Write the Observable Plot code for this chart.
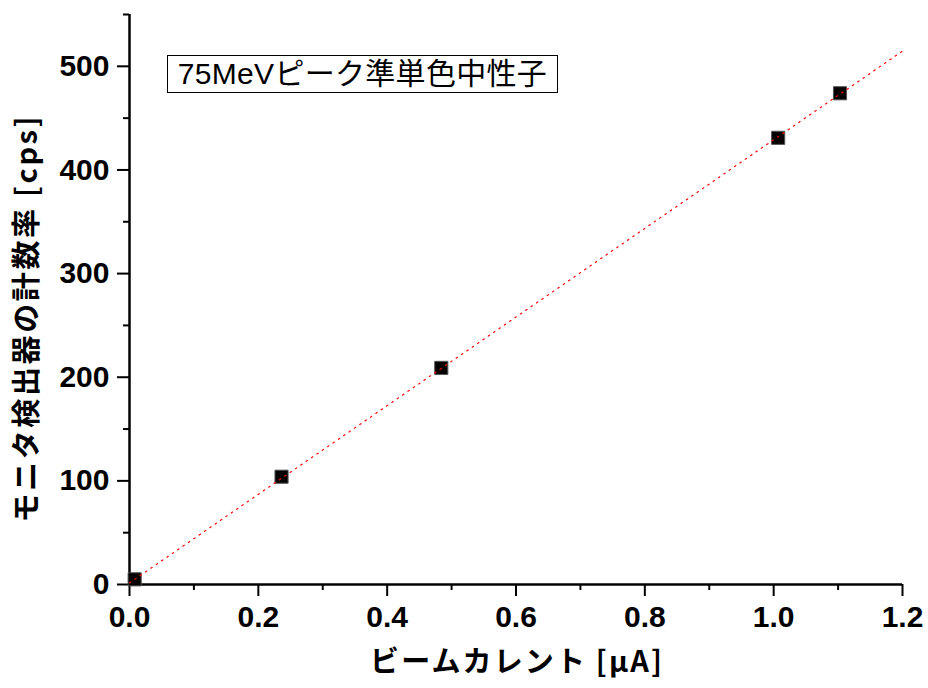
<!DOCTYPE html>
<html>
<head>
<meta charset="utf-8">
<script src="https://cdn.jsdelivr.net/npm/d3@7"></script>
<script src="https://cdn.jsdelivr.net/npm/@observablehq/plot@0.6"></script>
<style>
  html, body { margin: 0; padding: 0; background: #fff; }
  #wrap { position: relative; width: 928px; height: 688px; }
  #legend {
    position: absolute; left: 167px; top: 55px; width: 389px; height: 36px;
    border: 1px solid #000; background: #fff;
    font-family: "Liberation Sans", "Noto Sans CJK JP", sans-serif;
    font-size: 30px; line-height: 36px; text-align: center; color: #000;
    white-space: nowrap; letter-spacing: 0.3px;
  }
</style>
</head>
<body>
<div id="wrap"></div>
<script>
// Data
const currentUA = [0.008, 0.236, 0.484, 1.007, 1.103];
const countRate = [5, 104, 209, 431, 474];
const fitX = [0, 1.2];
const fitY = [1.5, 514.7];
const xTicks = [0, 0.2, 0.4, 0.6, 0.8, 1.0, 1.2];
const xMinorTicks = [0.1, 0.3, 0.5, 0.7, 0.9, 1.1];
const yTicks = [0, 100, 200, 300, 400, 500];
const yMinorTicks = [50, 150, 250, 350, 450, 550];
const xTitle = "ビームカレント [μA]";
const yTitle = "モニタ検出器の計数率 [cps]";
const legendText = "75MeVピーク準単色中性子";

const points = currentUA.map((x, i) => ({x, y: countRate[i]}));
const fit = fitX.map((x, i) => ({x, y: fitY[i]}));

const tickFont = "'Liberation Sans', Arial, sans-serif";
const titleFont = "'Noto Sans CJK JP', 'Liberation Sans', sans-serif";

const chart = Plot.plot({
  width: 928,
  height: 688,
  marginLeft: 129,
  marginRight: 26,
  marginTop: 14,
  marginBottom: 104,
  style: {fontFamily: tickFont, color: "black", background: "white", overflow: "visible"},
  x: {domain: [0, 1.2]},
  y: {domain: [0, 550]},
  marks: [
    Plot.axisX({ticks: xTicks, tickSize: 12, tickPadding: 9, strokeWidth: 2, fontSize: 30, fontWeight: "bold",
                tickFormat: d => d.toFixed(1), label: null}),
    Plot.axisX({ticks: xMinorTicks, tickSize: 6, strokeWidth: 2, text: null, label: null}),
    Plot.axisY({ticks: yTicks, tickSize: 12, tickPadding: 8, strokeWidth: 2, fontSize: 30, fontWeight: "bold",
                tickFormat: d => String(d), label: null}),
    Plot.axisY({ticks: yMinorTicks, tickSize: 6, strokeWidth: 2, text: null, label: null}),
    Plot.ruleX([0], {strokeWidth: 2.5}),
    Plot.ruleY([0], {strokeWidth: 2.5}),
    Plot.dot(points, {x: "x", y: "y", symbol: "square", r: 7.4, fill: "black", stroke: "#555", strokeWidth: 1}),
    Plot.line(fit, {x: "x", y: "y", stroke: "red", strokeWidth: 1.2, strokeDasharray: "1.5,5"}),
    Plot.text([xTitle], {frameAnchor: "bottom", dy: 78, textAnchor: "middle", lineAnchor: "middle",
                         fontSize: 29, fontWeight: "bold", fontFamily: titleFont, className: "xtitle"}),
    Plot.text([yTitle], {frameAnchor: "left", dx: -102, dy: 20, rotate: -90, textAnchor: "middle", lineAnchor: "middle",
                         fontSize: 29, fontWeight: "bold", fontFamily: titleFont, className: "ytitle"})
  ]
});

// stretch titles to the reference lengths
d3.select(chart).selectAll(".xtitle text").attr("textLength", 292).attr("lengthAdjust", "spacing");
d3.select(chart).selectAll(".ytitle text").attr("textLength", 406).attr("lengthAdjust", "spacing");

const wrap = document.getElementById("wrap");
wrap.appendChild(chart);
const legend = document.createElement("div");
legend.id = "legend";
legend.textContent = legendText;
wrap.appendChild(legend);
</script>
</body>
</html>
